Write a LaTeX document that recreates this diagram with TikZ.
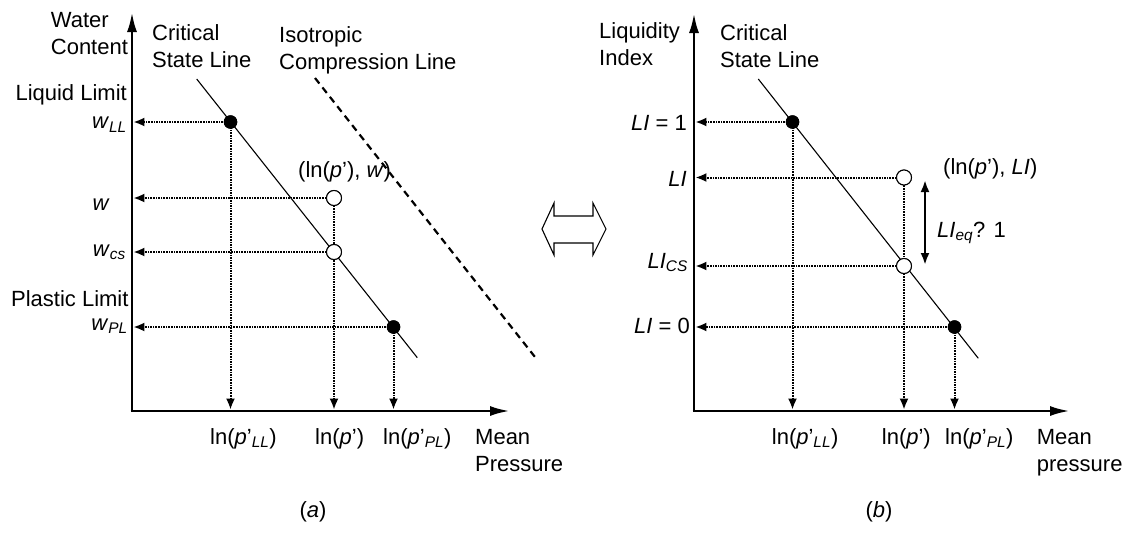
\documentclass[tikz,border=0pt]{standalone}
\usepackage{fontspec}
\setmainfont{Liberation Sans}
\usetikzlibrary{arrows.meta}
\newcommand\sbs[1]{\textsubscript{\itshape #1}}
\newcommand\pr{\textquoteright}
\begin{document}
\begin{tikzpicture}[x=1pt,y=-1pt,
  lbl/.style={font=\fontsize{22}{27}\selectfont, inner sep=0pt, align=left},
  axisline/.style={line width=2.8pt, -{Latex[length=20pt,width=10pt]}},
  dotar/.style={line width=2pt, dash pattern=on 1.6pt off 1pt, -{Latex[length=11pt,width=9pt]}, shorten >=1.4pt},
  csl/.style={line width=1.1pt},
  icl/.style={line width=2.2pt, dash pattern=on 7pt off 5pt},
  fdot/.style={circle, fill=black, minimum size=13.5pt, inner sep=0pt},
  odot/.style={circle, draw=black, line width=1pt, fill=white, minimum size=15pt, inner sep=0pt},
  bigarrow/.style={line width=1.1pt, fill=white},
  eqarrow/.style={line width=2.5pt, {Latex[length=12pt,width=9pt]}-{Latex[length=12pt,width=9pt]}}
]
\useasboundingbox (0,0) rectangle (1130,549);

%%%%%%%%%%%%%%%% panel (a)
\coordinate (Oa) at (132,411);
\coordinate (Ya) at (132,12);
\coordinate (Xa) at (510,411);
\coordinate (CSa1) at (196.7,79);
\coordinate (CSa2) at (417.3,357.7);
\coordinate (ICa1) at (315,78);
\coordinate (ICa2) at (535,357);

\node[fdot] (LLa) at (230.5,122) {};
\node[odot] (Wa) at (334,198) {};
\node[odot] (CSa) at (334,252) {};
\node[fdot] (PLa) at (393.5,327) {};

\draw[dotar] (LLa.center) -- (LLa.center -| Oa);
\draw[dotar] (Wa.center) -- (Wa.center -| Oa);
\draw[dotar] (CSa.center) -- (CSa.center -| Oa);
\draw[dotar] (PLa.center) -- (PLa.center -| Oa);
\draw[dotar] (LLa.center) -- (LLa.center |- Oa);
\draw[dotar] (Wa.center) -- (Wa.center |- Oa);
\draw[dotar] (PLa.center) -- (PLa.center |- Oa);

\draw[csl] (CSa1) -- (CSa2);
\draw[icl] (ICa1) -- (ICa2);
\draw[axisline] (Oa) -- (Ya);
\draw[axisline] ([xshift=-1.4pt]Oa) -- (Xa);

\node[fdot] at (LLa) {};
\node[odot] at (Wa) {};
\node[odot] at (CSa) {};
\node[fdot] at (PLa) {};

\node[lbl, anchor=base west] (wc) at (50.7,54) {Water\\Content};
\node[lbl, anchor=base west] (csla) at (152,67) {Critical\\State Line};
\node[lbl, anchor=base west] (icla) at (279,69.3) {Isotropic\\Compression Line};
\node[lbl, anchor=base east] (liql) at (127,100.7) {Liquid Limit};
\node[lbl, anchor=base east] (plal) at (128.7,306.7) {Plastic Limit};
\node[lbl, anchor=base east] (wll) at (127,128.8) {\textit{w}\sbs{LL}};
\node[lbl, anchor=base east] (w) at (110,210) {\textit{w}};
\node[lbl, anchor=base east] (wcs) at (126,256.7) {\textit{w}\sbs{cs}};
\node[lbl, anchor=base east] (wpl) at (128,330) {\textit{w}\sbs{PL}};
\node[lbl, anchor=base west] (ptw) at (298,177) {(ln(\textit{p}\pr), \textit{w})};
\node[lbl, anchor=base west] (pLLa) at (210,444) {ln(\textit{p}\pr\sbs{LL})};
\node[lbl, anchor=base west] (pa) at (315,444) {ln(\textit{p}\pr)};
\node[lbl, anchor=base west] (pPLa) at (383,444) {ln(\textit{p}\pr\sbs{PL})};
\node[lbl, anchor=base west] (mpa) at (475,471) {Mean\\Pressure};
\node[lbl, anchor=base] (capa) at (313,517) {(\textit{a})};

%%%%%%%%%%%%%%%% double arrow
\draw[bigarrow] (542,229) -- (554,203) -- (554,216) -- (593,216) -- (593,203)
  -- (606,229) -- (593,255) -- (593,243) -- (554,243) -- (554,255) -- cycle;

%%%%%%%%%%%%%%%% panel (b)
\coordinate (Ob) at (694,411);
\coordinate (Yb) at (694,13);
\coordinate (Xb) at (1070,411);
\coordinate (CSb1) at (758.3,79);
\coordinate (CSb2) at (978.3,358.3);

\node[fdot] (LLb) at (792.5,122) {};
\node[odot] (Wb) at (904,177.5) {};
\node[odot] (CSb) at (904,266) {};
\node[fdot] (PLb) at (954.5,327) {};

\draw[dotar] (LLb.center) -- (LLb.center -| Ob);
\draw[dotar] (Wb.center) -- (Wb.center -| Ob);
\draw[dotar] (CSb.center) -- (CSb.center -| Ob);
\draw[dotar] (PLb.center) -- (PLb.center -| Ob);
\draw[dotar] (LLb.center) -- (LLb.center |- Ob);
\draw[dotar] (Wb.center) -- (Wb.center |- Ob);
\draw[dotar] (PLb.center) -- (PLb.center |- Ob);

\draw[csl] (CSb1) -- (CSb2);
\draw[axisline] (Ob) -- (Yb);
\draw[axisline] ([xshift=-1.4pt]Ob) -- (Xb);

\node[fdot] at (LLb) {};
\node[odot] at (Wb) {};
\node[odot] at (CSb) {};
\node[fdot] at (PLb) {};

\coordinate (EQt) at (925,180);
\coordinate (EQb) at (925,265);
\draw[eqarrow] (EQt) -- (EQb);

\node[lbl, anchor=base west] (lii) at (599,65) {Liquidity\\Index};
\node[lbl, anchor=base west] (cslb) at (720,67) {Critical\\State Line};
\node[lbl, anchor=base east] (li1) at (687,130) {\textit{LI} = 1};
\node[lbl, anchor=base east] (li) at (687,186.5) {\textit{LI}};
\node[lbl, anchor=base east] (lics) at (688,268) {\textit{LI}\sbs{CS}};
\node[lbl, anchor=base east] (li0) at (690,333) {\textit{LI} = 0};
\node[lbl, anchor=base west] (ptli) at (943,174) {(ln(\textit{p}\pr), \textit{LI})};
\node[lbl, anchor=base west] (lieq) at (937,237) {\textit{LI}\sbs{eq}? 1};
\node[lbl, anchor=base west] (pLLb) at (771.7,444) {ln(\textit{p}\pr\sbs{LL})};
\node[lbl, anchor=base west] (pb) at (881.7,444) {ln(\textit{p}\pr)};
\node[lbl, anchor=base west] (pPLb) at (945,444) {ln(\textit{p}\pr\sbs{PL})};
\node[lbl, anchor=base west] (mpb) at (1036.7,471) {Mean\\pressure};
\node[lbl, anchor=base] (capb) at (879,517) {(\textit{b})};
\end{tikzpicture}
\end{document}
